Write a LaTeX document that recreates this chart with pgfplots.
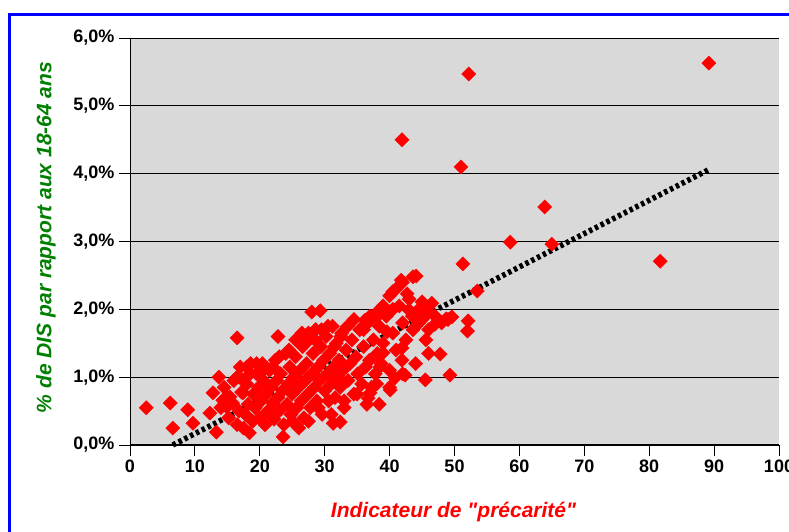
\documentclass[border=0pt]{standalone}
\usepackage{pgfplots}
\pgfplotsset{compat=1.18}
\usepackage{fontspec}
\setmainfont{Liberation Sans}[Ligatures=TeXOff]
\definecolor{bggray}{RGB}{217,217,217}
\definecolor{lblgreen}{RGB}{0,128,0}
\definecolor{frameblue}{RGB}{0,0,255}
\begin{document}
\begin{tikzpicture}
\useasboundingbox (0,0) rectangle (789pt,531pt);
\clip (0,0) rectangle (789pt,531pt);
\fill[white] (0,0) rectangle (789pt,531pt);
\draw[frameblue, line width=3pt] (9.5pt,-10pt) -- (9.5pt,516.3pt) -- (800pt,516.3pt);
\begin{axis}[
  at={(130pt,86pt)}, anchor=south west,
  scale only axis, width=649pt, height=407pt,
  xmin=0, xmax=100, ymin=0, ymax=6,
  axis lines*=left,
  axis line style={black},
  x axis line style={line width=1.6pt},
  y axis line style={line width=1pt},
  axis background/.style={fill=bggray},
  xtick={0,10,20,30,40,50,60,70,80,90,100},
  xticklabels={0,10,20,30,40,50,60,70,80,90,100},
  ytick={0,1,2,3,4,5,6},
  yticklabels={{0,0\%},{1,0\%},{2,0\%},{3,0\%},{4,0\%},{5,0\%},{6,0\%}},
  ymajorgrids,
  major grid style={black, line width=0.9pt},
  tick align=outside,
  major tick length=11pt,
  tick style={black, line width=0.9pt},
  /pgf/number format/assume math mode=true,
  tick label style={font=\bfseries\fontsize{18}{21}\selectfont},
  yticklabel style={xshift=-1pt},
  xlabel={Indicateur de "précarité"},
  ylabel={\% de DIS par rapport aux 18-64 ans},
  xlabel style={at={(axis description cs:0.4985,-0.165)}, anchor=center, text=red, font=\bfseries\itshape\fontsize{21}{24}\selectfont},
  ylabel style={at={(axis description cs:-0.1295,0.51)}, anchor=center, rotate=0, text=lblgreen, font=\bfseries\itshape\fontsize{21}{24}\selectfont},
  clip=false,
]
\addplot[only marks, mark=square*, mark size=5pt, mark options={fill=red, draw=red, rotate=45}] coordinates {
(2.5,0.55)(6.2,0.62)(6.6,0.25)(8.9,0.52)(9.7,0.32)(12.3,0.47)(13.3,0.19)(13.7,1.00)(16.5,1.58)
(12.8,0.77)(14.3,0.66)(15.4,0.71)(14.9,0.56)(17.3,0.96)(18.0,1.15)(17.4,0.77)
(22.8,1.60)(28.0,1.96)(29.3,1.98)(23.6,0.12)(31.3,0.32)(32.4,0.34)
(41.8,2.43)(44.1,2.49)(40.5,2.26)(42.7,2.23)(45.0,2.11)(46.5,2.09)(43.0,1.99)(40.5,2.00)(38.0,1.89)(37.0,1.84)
(39.6,1.67)(43.6,1.70)(45.6,1.55)(39.0,1.36)(41.9,1.25)(38.5,1.15)(42.4,1.03)(40.8,0.99)(40.1,0.81)(37.0,0.77)
(38.4,0.60)(41.9,1.43)(36.7,0.69)(35.4,1.70)(36.2,1.84)
(47.8,1.34)(49.3,1.03)(45.5,0.96)(49.6,1.89)(48.7,1.86)(52.1,1.83)(52.0,1.68)(53.5,2.27)(51.3,2.67)(43.6,2.48)
(46.0,1.95)(47.0,1.78)(44.5,1.80)
(89.2,5.63)(52.2,5.47)(41.9,4.50)(51.0,4.10)(63.9,3.51)(58.6,2.99)(65.0,2.96)(81.7,2.71)
(14.0,0.55)(14.5,0.85)(15.0,0.70)(15.2,0.40)(15.8,0.62)(16.0,0.95)(16.5,0.30)(16.8,0.50)(17.0,1.15)(17.2,0.78)
(17.5,0.25)(17.8,0.45)(18.0,0.90)(18.2,0.60)(18.4,0.18)(18.6,1.20)(18.9,0.35)(19.0,0.75)(19.3,0.55)(19.5,1.05)
(19.8,0.85)(20.0,0.40)(20.2,0.65)(20.4,1.20)(20.6,0.95)(20.8,0.30)(21.0,0.75)(21.2,0.50)(21.5,1.10)(21.7,0.85)
(22.0,0.62)(22.2,0.38)(22.4,1.25)(22.6,0.95)(22.8,0.70)(23.0,0.50)(23.2,1.05)(23.5,0.80)(23.7,0.30)(24.0,1.35)
(24.2,0.60)(24.4,0.90)(24.6,1.15)(24.8,0.45)(25.0,0.75)(25.2,1.00)(25.5,1.30)(25.7,0.55)(26.0,0.85)(26.2,1.10)
(26.4,0.65)(26.6,1.45)(26.8,0.40)(27.0,0.95)(27.2,1.20)(27.4,0.75)(27.6,1.55)(27.8,0.55)(28.0,1.05)(28.2,1.35)
(28.4,0.85)(28.6,1.70)(28.8,0.65)(29.0,1.15)(29.2,0.95)(29.4,1.45)(29.6,0.45)(29.8,1.25)(30.0,0.80)(30.2,1.60)
(30.4,1.05)(30.6,0.65)(30.8,1.35)(31.0,0.90)(31.2,1.75)(31.4,1.15)(31.6,0.70)(31.8,1.50)(32.0,1.00)(32.2,1.25)
(32.4,0.85)(32.6,1.65)(32.8,1.10)(33.0,0.55)(33.3,1.40)(33.6,0.95)(33.9,1.20)(34.2,1.55)(34.5,0.75)(34.8,1.30)
(35.1,1.05)(35.7,0.90)(36.0,1.45)(36.3,1.15)(36.6,1.80)(36.9,1.25)(37.2,0.85)(37.5,1.55)(37.8,1.05)(38.1,1.35)
(38.4,1.75)(38.7,1.20)(39.0,1.50)(39.5,1.90)(40.0,1.10)(40.5,1.65)(41.0,1.40)(41.5,2.05)(42.0,1.80)(42.5,1.55)
(43.0,2.15)(43.5,1.90)(44.0,1.75)(44.5,2.00)(45.0,1.85)(45.5,2.05)(46.0,1.70)(47.0,1.90)(48.0,1.80)(49.0,1.85)
(16.5,1.00)(18.5,1.05)(19.5,1.20)(20.5,1.10)(22.0,1.15)(23.0,1.30)(24.5,1.40)(25.5,1.55)(26.5,1.65)(27.5,1.65)
(28.5,1.55)(29.5,1.70)(30.5,1.75)(31.5,1.45)(32.5,1.60)(33.5,1.75)(34.5,1.85)(36.0,1.70)(37.0,1.90)(38.0,1.95)
(39.0,2.05)(40.0,2.20)(41.0,2.30)(42.0,2.40)
(25.0,0.35)(26.0,0.25)(27.5,0.35)(29.0,0.55)(31.0,0.45)(33.0,0.65)(35.0,0.75)(36.5,0.60)(38.0,0.90)(40.0,0.85)
(42.0,1.05)(44.0,1.20)(46.0,1.35)
};
\addplot[black, line width=5.5pt, dash pattern=on 3.5pt off 3pt] coordinates {(6.6,0.0) (89.4,4.07)};
\end{axis}
\end{tikzpicture}
\end{document}
